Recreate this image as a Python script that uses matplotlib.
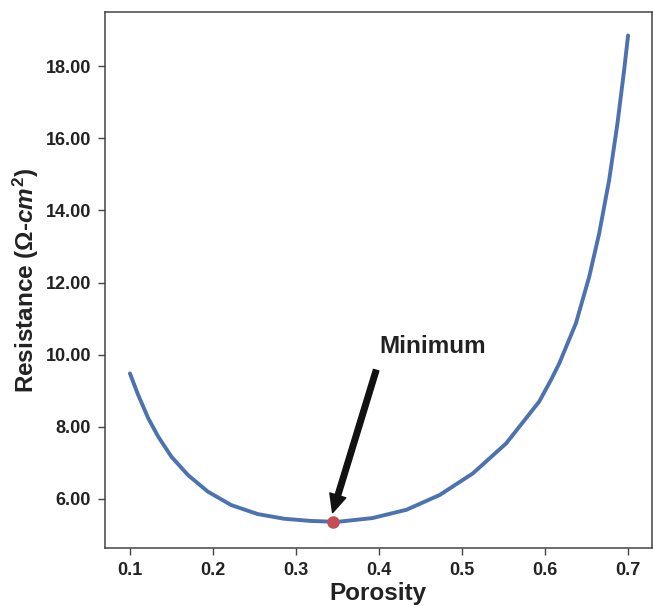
import matplotlib
matplotlib.use('Agg')
import matplotlib.pyplot as plt
from matplotlib.ticker import FormatStrFormatter

# values
porosity = [0.100, 0.110, 0.122, 0.134, 0.150, 0.170, 0.194, 0.222, 0.254,
            0.286, 0.318, 0.343, 0.352, 0.392, 0.433, 0.473, 0.513, 0.553,
            0.5928, 0.607, 0.617, 0.637, 0.653, 0.665, 0.677, 0.687,
            0.695, 0.6998]
resistance = [9.48, 8.88, 8.24, 7.73, 7.17, 6.66, 6.20, 5.83, 5.58,
              5.45, 5.39, 5.37, 5.37, 5.47, 5.70, 6.11, 6.71, 7.54,
              8.70, 9.30, 9.76, 10.87, 12.16, 13.36, 14.84, 16.41,
              17.88, 18.85]
min_point = (0.344, 5.36)
xticks = [0.1, 0.2, 0.3, 0.4, 0.5, 0.6, 0.7]
yticks = [6, 8, 10, 12, 14, 16, 18]

plt.rcParams['font.family'] = 'Liberation Sans'
plt.rcParams['font.weight'] = 'bold'
plt.rcParams['mathtext.fontset'] = 'custom'
plt.rcParams['mathtext.rm'] = 'Liberation Sans:bold'
plt.rcParams['mathtext.it'] = 'Liberation Sans:italic:bold'
plt.rcParams['mathtext.bf'] = 'Liberation Sans:bold'

fig = plt.figure(figsize=(6.53, 6.06), dpi=100)
ax = fig.add_axes([105/653, 1-548/606, 546.5/653, 536/606])

ax.plot(porosity, resistance, color='#4C72B0', linewidth=2.8,
        solid_capstyle='round', solid_joinstyle='round')
ax.plot(*min_point, 'o', color='#C44E52', markersize=8, zorder=3)

# arrow and label
ax.annotate('', xy=(0.344, 5.62), xytext=(0.3965, 9.57),
            arrowprops=dict(facecolor='#111111', edgecolor='#111111', width=4,
                            headwidth=12, headlength=13, shrink=0))
ax.text(0.4005, 10.22, 'Minimum', fontsize=17.5, fontweight='bold',
        color='#222222', va='center', ha='left')

ax.set_xlim(0.07, 0.728)
ax.set_ylim(4.64, 19.5)
ax.set_xticks(xticks)
ax.set_yticks(yticks)
ax.yaxis.set_major_formatter(FormatStrFormatter('%.2f'))
ax.tick_params(direction='out', length=5, width=1, color='#444444',
               labelsize=13, labelcolor='#222222', pad=5)
for s in ax.spines.values():
    s.set_color('#444444')
    s.set_linewidth(1.1)

ax.set_xlabel('Porosity', fontsize=17.5, fontweight='bold', color='#222222', labelpad=2)
ax.set_ylabel(r'Resistance ($\Omega$-$cm^2$)', fontsize=17.5, fontweight='bold',
              color='#222222', labelpad=3)

plt.savefig('out.png', dpi=100)
plt.close()
